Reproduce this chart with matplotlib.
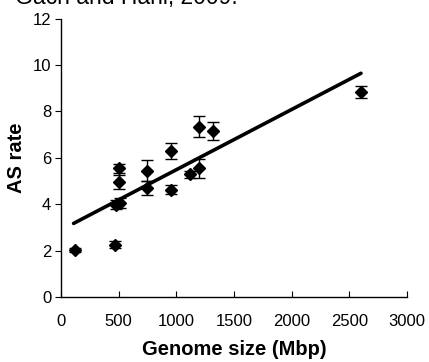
import matplotlib
matplotlib.use('Agg')
from matplotlib import pyplot as plt
import numpy as np

# genome size (Mbp) vs alternative splicing rate
genome_size = [120, 470, 480, 510, 500, 500, 750, 750, 950, 950, 1120, 1200, 1200, 1320, 2600]
as_rate = [2.03, 2.25, 3.97, 4.05, 4.95, 5.55, 4.70, 5.45, 6.30, 4.62, 5.30, 5.55, 7.35, 7.15, 8.85]
as_err = [0.08, 0.15, 0.20, 0.20, 0.30, 0.20, 0.30, 0.45, 0.35, 0.20, 0.15, 0.40, 0.45, 0.40, 0.25]

trend_x = [110, 2600]
trend_y = [3.17, 9.65]

x_ticks = [0, 500, 1000, 1500, 2000, 2500, 3000]
y_ticks = [0, 2, 4, 6, 8, 10, 12]

plt.rcParams['font.family'] = ['Liberation Sans', 'DejaVu Sans']

fig = plt.figure(figsize=(4.29, 3.62), dpi=100)
ax = fig.add_axes([0.142, 0.180, 0.807, 0.768])

ax.plot(trend_x, trend_y, color='black', lw=2.6, solid_capstyle='round', zorder=2)
ax.errorbar(genome_size, as_rate, yerr=as_err, fmt='D', color='black',
            ms=6.5, elinewidth=1.0, capsize=4, capthick=1.0, zorder=3)

ax.set_xlim(0, 3000)
ax.set_ylim(0, 12)
ax.set_xticks(x_ticks)
ax.set_yticks(y_ticks)
ax.spines['top'].set_visible(False)
ax.spines['right'].set_visible(False)
for s in ['left', 'bottom']:
    ax.spines[s].set_linewidth(1.0)
ax.tick_params(axis='x', direction='in', length=4, labelsize=12, pad=12)
ax.tick_params(axis='y', direction='out', length=4, labelsize=12, pad=3)

ax.set_xlabel('Genome size (Mbp)', fontsize=14.5, fontweight='bold', labelpad=8)
ax.set_ylabel('AS rate', fontsize=14.5, fontweight='bold', labelpad=5)

# caption cut off at the top of the crop
fig.text(0.035, 0.988, 'Gach and Hani, 2009.', fontsize=16.5, va='baseline', ha='left')

fig.savefig('out.png', dpi=100)
plt.close(fig)
